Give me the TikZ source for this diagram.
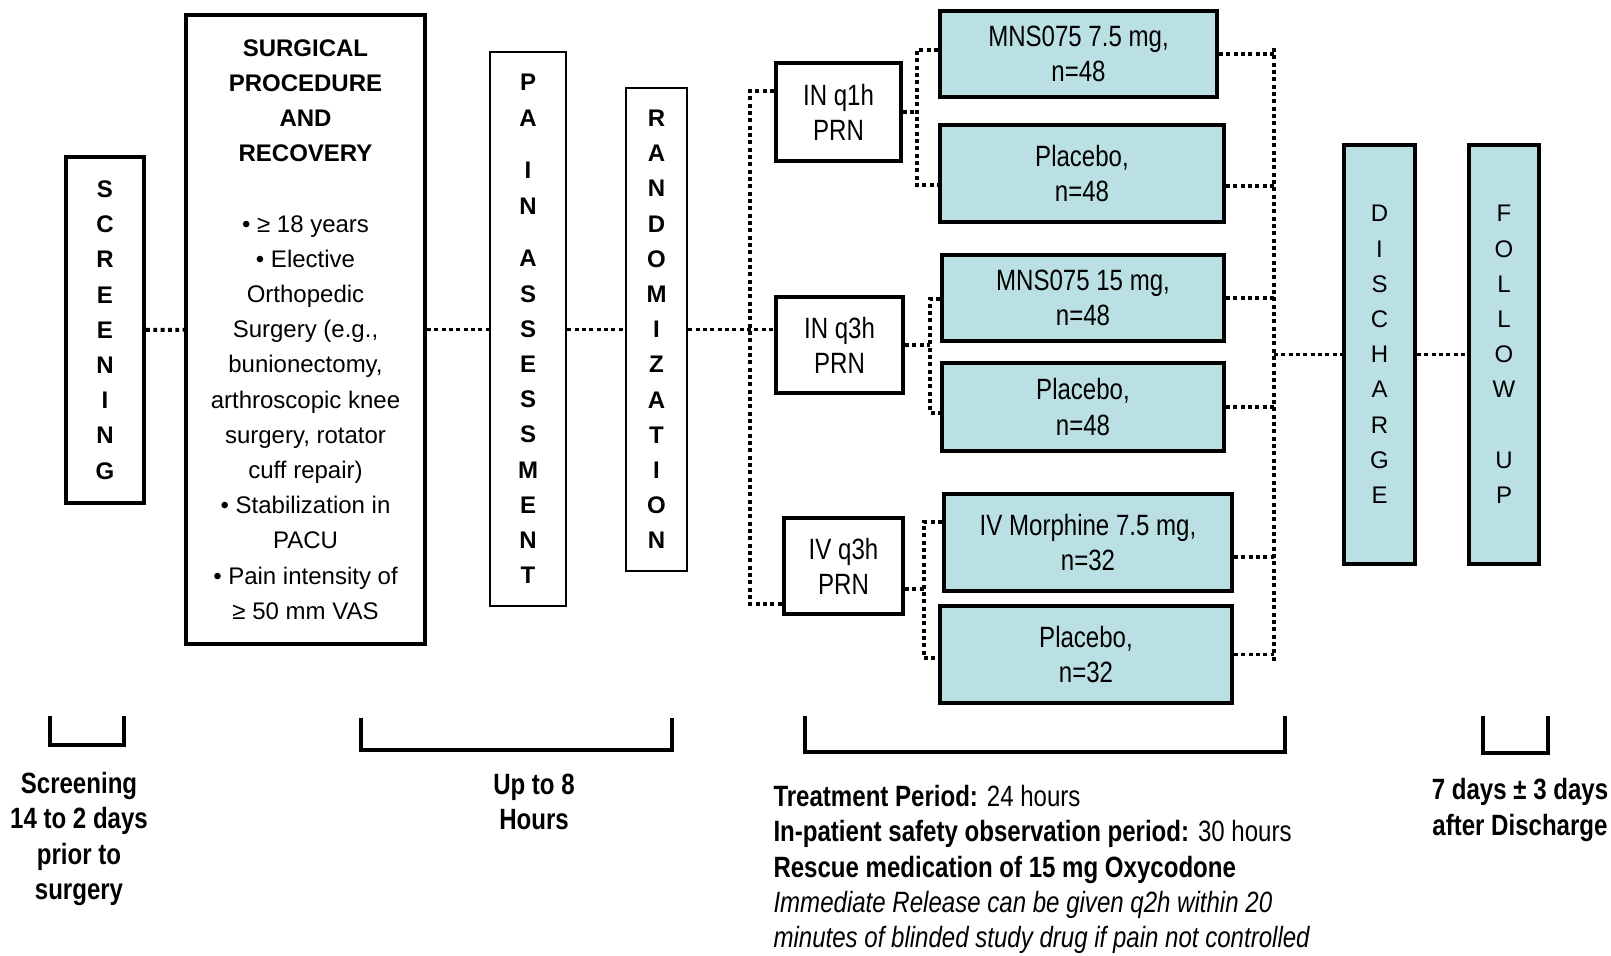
\documentclass[tikz,border=0pt]{standalone}
\usepackage{fontspec}
\setmainfont{Liberation Sans}
\newfontfamily\narrowfont[FakeStretch=0.82]{Liberation Sans}
\definecolor{armfill}{RGB}{186,224,227}
\tikzset{every picture/.style={line width=0.75pt}}

\begin{document}
\begin{tikzpicture}[x=0.75pt,y=0.75pt,yscale=-1,xscale=1,
  letterbox/.style={draw, line width=3pt, inner sep=0pt, align=center, font=\fontsize{18}{26.4}\selectfont\bfseries},
  routebox/.style={draw, line width=3pt, inner sep=0pt, align=center, font=\narrowfont\fontsize{22}{26.4}\selectfont},
  armbox/.style={routebox, line width=3.2pt, fill=armfill},
  conn/.style={line width=2.9pt, dash pattern=on 2.9pt off 2.6pt},
  span/.style={line width=3pt},
  note/.style={inner sep=0pt, align=center, font=\narrowfont\fontsize{22}{26.4}\selectfont\bfseries}]
	\useasboundingbox (0,0) rectangle (1611,956);

	%Phase boxes
	\node[letterbox, minimum width=58.5pt, minimum height=259.5pt] (scr) at (105,330) {S\\C\\R\\E\\E\\N\\I\\N\\G};
	\node[letterbox, line width=3.2pt, minimum width=179.25pt, minimum height=471.75pt, font=\fontsize{18}{26.4}\selectfont] (surg) at (305.5,329.5)
	  {\textbf{SURGICAL}\\\textbf{PROCEDURE}\\\textbf{AND}\\\textbf{RECOVERY}\\[26.4pt]%
	   • ≥ 18 years\\• Elective\\Orthopedic\\Surgery (e.g.,\\bunionectomy,\\arthroscopic knee\\surgery, rotator\\cuff repair)\\• Stabilization in\\PACU\\• Pain intensity of\\≥ 50 mm VAS};
	\node[letterbox, line width=2.2pt, minimum width=57pt, minimum height=415.5pt] (pain) at (528,329)
	  {P\\A\\[13.2pt]I\\N\\[13.2pt]A\\S\\S\\E\\S\\S\\M\\E\\N\\T};
	\node[letterbox, line width=2.2pt, minimum width=45.75pt, minimum height=362.25pt] (rand) at (656.5,329.5)
	  {R\\A\\N\\D\\O\\M\\I\\Z\\A\\T\\I\\O\\N};

	%Routes
	\node[routebox, minimum width=93.75pt, minimum height=73.5pt] (q1h) at (838.5,112) {IN q1h\\PRN};
	\node[routebox, minimum width=95.25pt, minimum height=72pt] (q3h) at (839.5,345) {IN q3h\\PRN};
	\node[routebox, minimum width=89.25pt, minimum height=72pt] (ivq3h) at (843.5,566) {IV q3h\\PRN};

	%Treatment arms
	\node[armbox, minimum width=207.75pt, minimum height=64.5pt] (arm1) at (1078.5,54) {MNS075 7.5 mg,\\n=48};
	\node[armbox, minimum width=213pt, minimum height=72.75pt] (arm2) at (1082,173.5) {Placebo,\\n=48};
	\node[armbox, minimum width=211.5pt, minimum height=64.5pt] (arm3) at (1083,298) {MNS075 15 mg,\\n=48};
	\node[armbox, minimum width=211.5pt, minimum height=66pt] (arm4) at (1083,407) {Placebo,\\n=48};
	\node[armbox, minimum width=216pt, minimum height=72.75pt] (arm5) at (1088,542.5) {IV Morphine 7.5 mg,\\n=32};
	\node[armbox, minimum width=219pt, minimum height=72.75pt] (arm6) at (1086,654.5) {Placebo,\\n=32};

	%Discharge and follow up
	\node[letterbox, fill=armfill, font=\fontsize{18}{26.4}\selectfont, minimum width=53.25pt, minimum height=314.25pt] (dis) at (1379.5,354.5)
	  {D\\I\\S\\C\\H\\A\\R\\G\\E};
	\node[letterbox, fill=armfill, font=\fontsize{18}{26.4}\selectfont, minimum width=52.5pt, minimum height=314.25pt] (fu) at (1504,354.5)
	  {F\\O\\L\\L\\O\\W\\[26.4pt]U\\P};

	%Dotted connectors
	\draw[conn] (scr) -- (surg);
	\draw[conn] (surg) -- (surg -| pain.west);
	\draw[conn] (pain.east |- rand) -- (rand);
	\draw[conn] (rand.east) -- (rand.east -| q3h.west);
	\coordinate (ltop) at (750,91);
	\coordinate (lbot) at (750,604);
	\draw[conn] (ltop -| q1h.west) -- (ltop) -- (lbot) -- (lbot -| ivq3h.west);

	\coordinate (b1t) at (917,50);
	\coordinate (b1b) at (917,185);
	\draw[conn] (q1h.east) -- (q1h.east -| b1t);
	\draw[conn] (b1t -| arm1.west) -- (b1t) -- (b1b) -- (b1b -| arm2.west);
	\coordinate (b2t) at (930,299);
	\coordinate (b2b) at (930,413);
	\draw[conn] (q3h.east) -- (q3h.east -| b2t);
	\draw[conn] (b2t -| arm3.west) -- (b2t) -- (b2b) -- (b2b -| arm4.west);
	\coordinate (b3t) at (924,522);
	\coordinate (b3m) at (924,589);
	\coordinate (b3b) at (924,658);
	\draw[conn] (b3m -| ivq3h.east) -- (b3m);
	\draw[conn] (b3t -| arm5.west) -- (b3t) -- (b3b) -- (b3b -| arm6.west);

	\coordinate (rtop) at (1274,48);
	\coordinate (rbot) at (1274,663);
	\draw[conn] (rtop) -- (rbot);
	\draw[conn] (arm1.east) -- (arm1.east -| rtop);
	\draw[conn] ([yshift=9.4pt]arm2.east) -- ([yshift=9.4pt]arm2.east -| rtop);
	\draw[conn] (arm3.east) -- (arm3.east -| rtop);
	\draw[conn] (arm4.east) -- (arm4.east -| rtop);
	\draw[conn] ([yshift=10.9pt]arm5.east) -- ([yshift=10.9pt]arm5.east -| rtop);
	\draw[conn] (arm6.east) -- (arm6.east -| rtop);
	\draw[conn] (dis.west -| rtop) -- (dis.west);
	\draw[conn] (dis) -- (fu);

	%Time spans
	\draw[span] (50,716) |- (124,745) -- (124,716);
	\draw[span] (361,718) |- (672,750) -- (672,718);
	\draw[span] (805,716) |- (1285,752) -- (1285,716);
	\draw[span] (1483,716) |- (1548,753) -- (1548,716);

	% Text Node
	\node[note] (scrnote) at (79,839) {Screening\\14 to 2 days\\prior to\\surgery};
	% Text Node
	\node[note] (surgnote) at (534,802) {Up to 8\\Hours};
	% Text Node
	\node[note, anchor=west, align=left] (treatnote) at (773,869.5)
	  {Treatment Period: \mdseries 24 hours\\
	   In-patient safety observation period: \mdseries 30 hours\\
	   Rescue medication of 15 mg Oxycodone\\
	   \mdseries\itshape Immediate Release can be given q2h within 20\\
	   \mdseries\itshape minutes of blinded study drug if pain not controlled};
	% Text Node
	\node[note] (funote) at (1520,810) {7 days ± 3 days\\after Discharge};

\end{tikzpicture}
\end{document}
